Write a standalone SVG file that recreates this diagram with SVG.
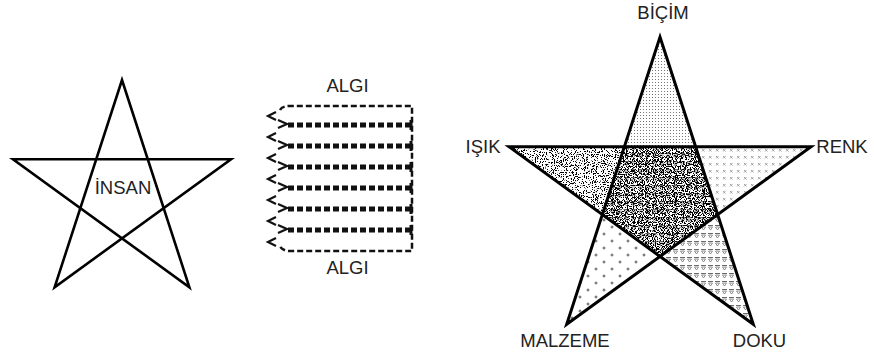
<svg xmlns="http://www.w3.org/2000/svg" width="874" height="359" viewBox="0 0 874 359">
<style>
  .lbl { font-family: "Liberation Sans", Arial, sans-serif; font-size: 18.5px; fill: #222; }
  .star { fill: none; stroke: #000; stroke-width: 2.6; stroke-linejoin: miter; }
  .star2 { fill: none; stroke: #000; stroke-width: 3; stroke-linejoin: miter; }
  .thin { fill: none; stroke: #111; stroke-width: 2.5; stroke-dasharray: 6 3; }
  .thick { fill: none; stroke: #111; stroke-width: 5; stroke-dasharray: 6 3; }
  .chev { fill: none; stroke: #111; stroke-width: 2.2; }
</style>
<defs>
  <pattern id="pDots" width="3" height="3" patternUnits="userSpaceOnUse">
    <rect x="1" y="1" width="1" height="1" fill="#777"/>
  </pattern>
  <pattern id="pX" width="7" height="7" patternUnits="userSpaceOnUse">
    <path d="M2 2l2.5 2.5M4.5 2l-2.5 2.5" stroke="#999" stroke-width="0.9" fill="none"/>
  </pattern>
  <pattern id="pPlus" width="16" height="14" patternUnits="userSpaceOnUse">
    <path d="M4 1.5v3M2.5 3h3M12 8.5v3M10.5 10h3" stroke="#333" stroke-width="0.8" fill="none"/>
  </pattern>
  <pattern id="pTri" width="7" height="8" patternUnits="userSpaceOnUse">
    <path d="M1 1.5h5" stroke="#444" stroke-width="0.8" fill="none"/>
    <path d="M1.5 3h4l-2 3z" stroke="#666" stroke-width="0.7" fill="none"/>
  </pattern>
  <filter id="stipL" color-interpolation-filters="sRGB">
    <feTurbulence type="fractalNoise" baseFrequency="0.9" numOctaves="2" seed="4" result="n"/>
    <feColorMatrix in="n" type="matrix" values="0 0 0 0 0  0 0 0 0 0  0 0 0 0 0  25 0 0 0 -14" result="d"/>
    <feComposite in="d" in2="SourceAlpha" operator="in"/>
  </filter>
  <filter id="stipC" color-interpolation-filters="sRGB">
    <feTurbulence type="fractalNoise" baseFrequency="0.9" numOctaves="2" seed="9" result="n"/>
    <feColorMatrix in="n" type="matrix" values="0 0 0 0 0  0 0 0 0 0  0 0 0 0 0  25 0 0 0 -12.6" result="d"/>
    <feComposite in="d" in2="SourceAlpha" operator="in"/>
  </filter>
</defs>

<g id="insan-star">
  <path class="star" d="M122,80 L189.4,287.3 L13,159.2 L231,159.2 L54.6,287.3 Z"/>
  <text class="lbl" x="123" y="194" text-anchor="middle">İNSAN</text>
</g>

<g id="algi">
  <text class="lbl" x="347.5" y="92" text-anchor="middle">ALGI</text>
  <text class="lbl" x="347.5" y="274" text-anchor="middle">ALGI</text>
</g>

<g id="connectors">
  <path class="thin" d="M280,110 Q282,106 290,106 H412 V251 H290 Q282,251 279,245"/>
  <g class="thick">
    <line x1="288" y1="125" x2="410" y2="125"/>
    <line x1="288" y1="146" x2="410" y2="146"/>
    <line x1="288" y1="167" x2="410" y2="167"/>
    <line x1="288" y1="188" x2="410" y2="188"/>
    <line x1="288" y1="209" x2="410" y2="209"/>
    <line x1="288" y1="230" x2="410" y2="230"/>
  </g>
  <g class="chev">
    <polyline points="276,112 268,116 276,120"/>
    <polyline points="276,133 268,137 276,141"/>
    <polyline points="276,154 268,158 276,162"/>
    <polyline points="276,175 268,179 276,183"/>
    <polyline points="276,196 268,200 276,204"/>
    <polyline points="276,217 268,221 276,225"/>
    <polyline points="276,238 268,242 276,246"/>
    <polyline points="278,120 287,124 278,128"/>
    <polyline points="278,141 287,145 278,149"/>
    <polyline points="278,162 287,166 278,170"/>
    <polyline points="278,183 287,187 278,191"/>
    <polyline points="278,204 287,208 278,212"/>
    <polyline points="278,225 287,229 278,233"/>
  </g>
  <g stroke="#111" stroke-width="3">
    <line x1="411" y1="120" x2="411" y2="130"/>
    <line x1="411" y1="141" x2="411" y2="151"/>
    <line x1="411" y1="162" x2="411" y2="172"/>
    <line x1="411" y1="183" x2="411" y2="193"/>
    <line x1="411" y1="204" x2="411" y2="214"/>
    <line x1="411" y1="225" x2="411" y2="235"/>
  </g>
</g>

<g id="element-star">
  <polygon id="bicim-area" points="660,37 695.7,146.7 624.3,146.7" fill="url(#pDots)"/>
  <polygon id="renk-area" points="695.7,146.7 811,146.7 717.7,214.5" fill="url(#pX)"/>
  <polygon id="doku-area" points="717.7,214.5 753.3,324.3 660,256.5" fill="url(#pTri)"/>
  <polygon id="malzeme-area" points="660,256.5 566.7,324.3 602.3,214.5" fill="url(#pPlus)"/>
  <polygon id="isik-area" points="602.3,214.5 509,146.7 624.3,146.7" fill="#fff" filter="url(#stipL)"/>
  <polygon id="center-tri" points="624.3,146.7 695.7,146.7 717.7,214.5 660,256.5 602.3,214.5" fill="url(#pTri)"/>
  <polygon id="center-area" points="624.3,146.7 695.7,146.7 717.7,214.5 660,256.5 602.3,214.5" fill="#fff" filter="url(#stipC)"/>
  <path class="star2" d="M660,37 L753.3,324.3 L509,146.7 L811,146.7 L566.7,324.3 Z"/>
  <text class="lbl" x="663" y="19" text-anchor="middle">BİÇİM</text>
  <text class="lbl" x="483" y="153" text-anchor="middle">IŞIK</text>
  <text class="lbl" x="842" y="153" text-anchor="middle">RENK</text>
  <text class="lbl" x="565" y="347" text-anchor="middle">MALZEME</text>
  <text class="lbl" x="759.5" y="347" text-anchor="middle">DOKU</text>
</g>
</svg>
